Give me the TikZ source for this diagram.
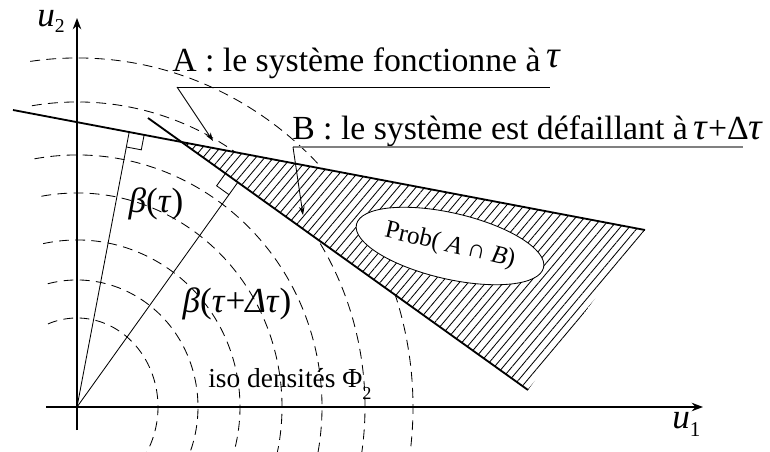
\documentclass[tikz,border=0pt]{standalone}
\usepackage{fontspec}
\setmainfont{Liberation Serif}
\usetikzlibrary{arrows.meta, positioning, calc, patterns.meta, shapes.geometric}

\begin{document}
\begin{tikzpicture}[x=0.025cm, y=-0.025cm]

	\tikzset{
		axis/.style={line width=1.4pt, -{Stealth[length=8pt, width=6pt]}},
		plane/.style={line width=1.3pt},
		ray/.style={line width=0.6pt},
		iso/.style={line width=0.6pt, dash pattern=on 7pt off 4.5pt},
		pointer/.style={line width=0.6pt, -{Stealth[length=6pt, width=4pt]}},
		eventtxt/.style={inner sep=0pt, anchor=base west, font=\fontsize{24}{28}\selectfont},
		greektxt/.style={inner sep=0pt, font=\fontsize{25}{28}\selectfont},
	}
	\useasboundingbox (0,0) rectangle (770,452);

	\coordinate (O) at (77,407);
	\coordinate (x0) at (46,407);
	\coordinate (x1) at (703,407);
	\coordinate (y0) at (77,430);
	\coordinate (y1) at (77,18);

	% iso density curves
	\begin{scope}
		\clip (0,0) rectangle (770,452);
		\foreach \rx/\ry/\a in {81/89/111, 121/127/104, 163/167/102, 205/214/100, 245/252/100, 288/305/99, 336/349/98}
			\draw[iso] ($(O)+({\rx*cos(\a)},{-\ry*sin(\a)})$) arc[start angle=-\a, end angle=45, x radius=\rx, y radius=\ry];
	\end{scope}

	% limit states
	\coordinate (L1a) at (13,110);
	\coordinate (L1b) at (645,230);
	\coordinate (L2a) at (148,118);
	\coordinate (L2b) at (528,390);
	\coordinate (P) at (intersection of L1a--L1b and L2a--L2b);

	\fill[white] (P) -- (L1b) -- (L2b) -- cycle;
	\fill[pattern={Lines[angle=50, distance=4.8pt, line width=0.6pt]}] (P) -- (L1b) -- (L2b) -- cycle;

	\node[ellipse, draw, fill=white, line width=0.6pt, inner sep=0pt, minimum width=4.8cm, minimum height=1.65cm, rotate=-13, font=\fontsize{18}{20}\selectfont] (prob) at (450,246) {Prob( \textit{A} ∩ \textit{B})};

	\draw[plane] (L1a) -- (L1b);
	\draw[plane] (L2a) -- (L2b);

	\draw[axis] (x0) -- (x1);
	\draw[axis] (y0) -- (y1);

	% design points
	\coordinate (F1) at ($(L1a)!(O)!(L1b)$);
	\coordinate (F2) at ($(L2a)!(O)!(L2b)$);
	\draw[ray] (O) -- (F1);
	\draw[ray] (O) -- (F2);

	\coordinate (s1a) at ($(F1)!0.38cm!(L1b)$);
	\coordinate (s1b) at ($(F1)!0.38cm!(O)$);
	\draw[ray] (s1a) -- ($(s1a)+(s1b)-(F1)$) -- (s1b);
	\coordinate (s2a) at ($(F2)!0.38cm!(P)$);
	\coordinate (s2b) at ($(F2)!0.38cm!(O)$);
	\draw[ray] (s2a) -- ($(s2a)+(s2b)-(F2)$) -- (s2b);

	% labels
	\node[greektxt, anchor=base west] (u2) at (37,27) {\textit{u}\raisebox{-4pt}{\fontsize{14}{14}\selectfont 2}};
	\node[greektxt, anchor=base west] (u1) at (672,428) {\textit{u}\raisebox{-6pt}{\fontsize{15}{15}\selectfont 1}};

	\node[greektxt] (bt) at (156,204) {\textit{β}(\textit{τ})};
	\node[greektxt] (btdt) at (237,304) {\textit{β}(\textit{τ}+\textit{Δτ})};

	\node[inner sep=0pt, anchor=base west, font=\fontsize{19.5}{22}\selectfont] (iso) at (208,388) {iso densités Φ\raisebox{-8pt}{\fontsize{13}{13}\selectfont 2}};

	\node[eventtxt] (evA) at (172,72) {A : le système fonctionne à\,\raisebox{3pt}{\fontsize{27}{28}\selectfont\textit{τ}}};
	\node[eventtxt] (evB) at (292,140) {B : le système est défaillant à\,{\fontsize{27}{28}\selectfont\textit{τ}}+Δ{\fontsize{27}{28}\selectfont\textit{τ}}};

	\coordinate (ulA) at (177,87);
	\coordinate (ulAend) at (550,87);
	\coordinate (tipA) at (213,141);
	\coordinate (ulB) at (293,147);
	\coordinate (ulBend) at (743,147);
	\coordinate (tipB) at (303,215);

	\draw[line width=0.7pt] (ulA) -- (ulAend);
	\draw[line width=1pt, gray] (ulB) -- (ulBend);
	\draw[pointer] (ulA) -- (tipA);
	\draw[pointer] (ulB) -- (tipB);

\end{tikzpicture}
\end{document}
